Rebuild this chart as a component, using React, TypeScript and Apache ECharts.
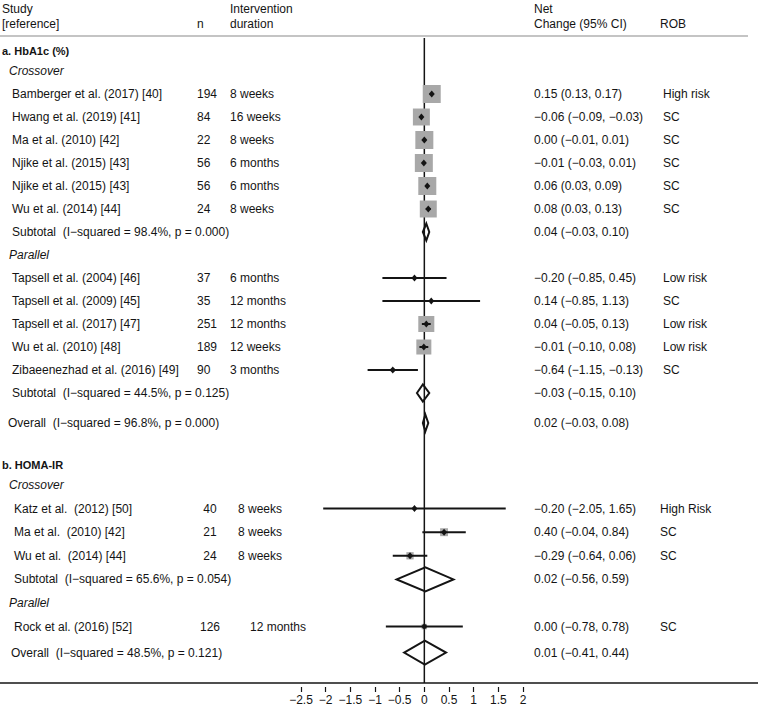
import React, { useEffect, useRef } from "react";
import * as echarts from "echarts";

// ---------- a. HbA1c (%) ----------
const hbaStudies = [
  "Bamberger et al. (2017) [40]",
  "Hwang et al. (2019) [41]",
  "Ma et al. (2010) [42]",
  "Njike et al. (2015) [43]",
  "Njike et al. (2015) [43]",
  "Wu et al. (2014) [44]",
  "Tapsell et al. (2004) [46]",
  "Tapsell et al. (2009) [45]",
  "Tapsell et al. (2017) [47]",
  "Wu et al. (2010) [48]",
  "Zibaeenezhad et al. (2016) [49]",
];
const hbaDesign = ["Crossover", "Crossover", "Crossover", "Crossover", "Crossover", "Crossover", "Parallel", "Parallel", "Parallel", "Parallel", "Parallel"];
const hbaN = [194, 84, 22, 56, 56, 24, 37, 35, 251, 189, 90];
const hbaDuration = ["8 weeks", "16 weeks", "8 weeks", "6 months", "6 months", "8 weeks", "6 months", "12 months", "12 months", "12 weeks", "3 months"];
const hbaEst = [0.15, -0.06, 0.0, -0.01, 0.06, 0.08, -0.2, 0.14, 0.04, -0.01, -0.64];
const hbaLow = [0.13, -0.09, -0.01, -0.03, 0.03, 0.03, -0.85, -0.85, -0.05, -0.1, -1.15];
const hbaHigh = [0.17, -0.03, 0.01, 0.01, 0.09, 0.13, 0.45, 1.13, 0.13, 0.08, -0.13];
const hbaWeight = [13.5, 12.0, 13.5, 13.5, 13.5, 12.0, 0.4, 0.2, 10.7, 9.4, 0.7];
const hbaRob = ["High risk", "SC", "SC", "SC", "SC", "SC", "Low risk", "SC", "Low risk", "Low risk", "SC"];
const hbaPooledGroup = ["Crossover", "Parallel", "Overall"];
const hbaPooledEst = [0.04, -0.03, 0.02];
const hbaPooledLow = [-0.03, -0.15, -0.03];
const hbaPooledHigh = [0.1, 0.1, 0.08];
const hbaPooledI2 = ["98.4%", "44.5%", "96.8%"];
const hbaPooledP = ["0.000", "0.125", "0.000"];

// ---------- b. HOMA-IR ----------
const homaStudies = [
  "Katz et al.  (2012) [50]",
  "Ma et al.  (2010) [42]",
  "Wu et al.  (2014) [44]",
  "Rock et al. (2016) [52]",
];
const homaDesign = ["Crossover", "Crossover", "Crossover", "Parallel"];
const homaN = [40, 21, 24, 126];
const homaDuration = ["8 weeks", "8 weeks", "8 weeks", "12 months"];
const homaEst = [-0.2, 0.4, -0.29, 0.0];
const homaLow = [-2.05, -0.04, -0.64, -0.78];
const homaHigh = [1.65, 0.84, 0.06, 0.78];
const homaWeight = [3, 32, 27, 15];
const homaRob = ["High Risk", "SC", "SC", "SC"];
const homaPooledGroup = ["Crossover", "Overall"];
const homaPooledEst = [0.02, 0.01];
const homaPooledLow = [-0.56, -0.41];
const homaPooledHigh = [0.59, 0.44];
const homaPooledI2 = ["65.6%", "48.5%"];
const homaPooledP = ["0.054", "0.121"];

const xTicks = [-2.5, -2, -1.5, -1, -0.5, 0, 0.5, 1, 1.5, 2];

// ---------- styling / layout ----------
const FONT = "'Liberation Sans', Arial, Helvetica, sans-serif";
const INK = "#141414";
const BOX_FILL = "#a8a8a8";
const GRID_TOP = 38;
const AXIS_Y = 683;

const sections = [
  {
    title: "a. HbA1c (%)",
    studies: hbaStudies, design: hbaDesign, n: hbaN, dur: hbaDuration,
    est: hbaEst, low: hbaLow, high: hbaHigh, weight: hbaWeight, rob: hbaRob,
    pooled: { group: hbaPooledGroup, est: hbaPooledEst, low: hbaPooledLow, high: hbaPooledHigh, i2: hbaPooledI2, p: hbaPooledP },
    lay: { start: 51, gapBefore: 0, step: 23, overallGap: 30, boxScale: 4.9, diamondHalf: 8.5,
      group: 9, study: 12, pooled: 12, overall: 8, n: 197, nAlign: "left", dur: [230, 230], net: 534, rob: 663 },
  },
  {
    title: "b. HOMA-IR",
    studies: homaStudies, design: homaDesign, n: homaN, dur: homaDuration,
    est: homaEst, low: homaLow, high: homaHigh, weight: homaWeight, rob: homaRob,
    pooled: { group: homaPooledGroup, est: homaPooledEst, low: homaPooledLow, high: homaPooledHigh, i2: homaPooledI2, p: homaPooledP },
    lay: { start: 0, gapBefore: 42, step: 23.6, overallGap: 26, boxScale: 1.4, diamondHalf: 12,
      group: 9, study: 14, pooled: 14, overall: 11, n: 210, nAlign: "center", dur: [238, 250], net: 534, rob: 660 },
  },
];

type Row = { kind: string; si: number; y: number; i?: number; gi?: number; group?: string; label?: string };

function buildRows(): Row[] {
  const rows: Row[] = [];
  let y = 0;
  sections.forEach((s, si) => {
    const L = s.lay;
    y = si === 0 ? L.start : y + L.gapBefore;
    rows.push({ kind: "title", si, y });
    const groups: string[] = [];
    s.design.forEach((g) => { if (!groups.includes(g)) groups.push(g); });
    groups.forEach((g, gi) => {
      y += gi === 0 ? 20 : L.step;
      rows.push({ kind: "group", si, y, group: g });
      s.design.forEach((d, i) => {
        if (d === g) { y += L.step; rows.push({ kind: "study", si, y, i, gi }); }
      });
      const pi = s.pooled.group.indexOf(g);
      if (pi >= 0) { y += L.step; rows.push({ kind: "pooled", si, y, i: pi, label: "Subtotal" }); }
    });
    const oi = s.pooled.group.indexOf("Overall");
    y += L.overallGap;
    rows.push({ kind: "pooled", si, y, i: oi, label: "Overall" });
  });
  return rows;
}

const fmt = (v: number) => (v < 0 ? "\u2212" : "") + Math.abs(v).toFixed(2);
const ci = (e: number, l: number, h: number) => `${fmt(e)} (${fmt(l)}, ${fmt(h)})`;

function txt(x: number, y: number, text: string, o: any = {}) {
  const size = o.size || 12;
  const font = `${o.italic ? "italic " : ""}${o.bold ? "bold " : ""}${size}px ${FONT}`;
  const align = o.align || "left";
  return {
    type: "text",
    x, y, silent: true,
    style: {
      text, fill: INK, font,
      align, verticalAlign: "middle",
      textAlign: align, textVerticalAlign: "middle",
    },
  };
}

export default function App() {
  const ref = useRef<HTMLDivElement>(null);
  useEffect(() => {
    document.body.style.margin = "0";
    if (!ref.current) return;
    const chart = echarts.init(ref.current, null, { renderer: "svg" });
    const rows = buildRows();

    const studyData: any[] = [];
    const pooledData: any[] = [];
    rows.forEach((r) => {
      const s = sections[r.si];
      if (r.kind === "study") {
        const i = r.i as number;
        studyData.push([s.est[i], r.y, s.low[i], s.high[i], s.weight[i], r.si]);
      } else if (r.kind === "pooled") {
        const i = r.i as number;
        pooledData.push([s.pooled.est[i], r.y, s.pooled.low[i], s.pooled.high[i], r.si]);
      }
    });

    const option: any = {
      animation: false,
      grid: { left: 301, right: 237, top: GRID_TOP, bottom: 708 - AXIS_Y, containLabel: false, outerBoundsMode: "none" },
      xAxis: {
        type: "value",
        min: xTicks[0],
        max: xTicks[xTicks.length - 1],
        interval: 0.5,
        offset: 4,
        axisLine: { show: false },
        axisTick: { show: true, length: 5, lineStyle: { color: INK, width: 1.2 } },
        axisLabel: {
          show: true, margin: 7, fontSize: 12, fontFamily: FONT, color: INK,
          showMinLabel: true, showMaxLabel: true,
          formatter: (v: number) => String(v).replace("-", "\u2212"),
        },
        splitLine: { show: false },
      },
      yAxis: { type: "value", min: GRID_TOP, max: AXIS_Y, inverse: true, show: false },
      graphic: {
        elements: [
          txt(2, 9, "Study"),
          txt(2, 24, "[reference]"),
          txt(197, 24, "n"),
          txt(230, 9, "Intervention"),
          txt(230, 24, "duration"),
          txt(534, 9, "Net"),
          txt(534, 24, "Change (95% CI)"),
          txt(660, 24, "ROB"),
          { type: "line", silent: true, shape: { x1: 0, y1: 36, x2: 748, y2: 36 }, style: { stroke: "#c4c4c4", lineWidth: 2 } },
          { type: "line", silent: true, shape: { x1: 0, y1: AXIS_Y, x2: 758, y2: AXIS_Y }, style: { stroke: INK, lineWidth: 1.5 } },
        ],
      },
      series: [
        {
          type: "custom",
          name: "zero",
          z: 1,
          clip: false,
          data: [[0, GRID_TOP, AXIS_Y]],
          encode: { x: 0, y: 1 },
          renderItem: (params: any, api: any) => {
            const a = api.coord([api.value(0), api.value(1)]);
            const b = api.coord([api.value(0), api.value(2)]);
            return { type: "line", shape: { x1: a[0], y1: a[1], x2: b[0], y2: b[1] }, style: { stroke: INK, lineWidth: 1.5 } };
          },
        },
        {
          type: "custom",
          name: "studies",
          z: 3,
          clip: false,
          data: studyData,
          encode: { x: 0, y: 1 },
          renderItem: (params: any, api: any) => {
            const est = api.value(0), y = api.value(1), lo = api.value(2), hi = api.value(3), w = api.value(4), si = api.value(5);
            const c = api.coord([est, y]);
            const lx = api.coord([lo, y])[0];
            const hx = api.coord([hi, y])[0];
            const s = sections[si].lay.boxScale * Math.sqrt(w);
            return {
              type: "group",
              children: [
                { type: "rect", shape: { x: c[0] - s / 2, y: c[1] - s / 2, width: s, height: s }, style: { fill: BOX_FILL } },
                { type: "line", shape: { x1: lx, y1: c[1], x2: hx, y2: c[1] }, style: { stroke: INK, lineWidth: 2 } },
                { type: "polygon", shape: { points: [[c[0], c[1] - 3.5], [c[0] + 3, c[1]], [c[0], c[1] + 3.5], [c[0] - 3, c[1]]] }, style: { fill: INK } },
              ],
            };
          },
        },
        {
          type: "custom",
          name: "pooled",
          z: 4,
          clip: false,
          data: pooledData,
          encode: { x: 0, y: 1 },
          renderItem: (params: any, api: any) => {
            const est = api.value(0), y = api.value(1), lo = api.value(2), hi = api.value(3), si = api.value(4);
            const c = api.coord([est, y]);
            const lx = api.coord([lo, y])[0];
            const hx = api.coord([hi, y])[0];
            const h = sections[si].lay.diamondHalf;
            return {
              type: "polygon",
              shape: { points: [[lx, c[1]], [c[0], c[1] - h], [hx, c[1]], [c[0], c[1] + h]] },
              style: { fill: "none", stroke: INK, lineWidth: 2, lineJoin: "miter" },
            };
          },
        },
        {
          type: "custom",
          name: "table",
          z: 5,
          clip: false,
          data: rows.map((r) => [0, r.y]),
          encode: { x: 0, y: 1 },
          renderItem: (params: any, api: any) => {
            const r = rows[params.dataIndex];
            const s = sections[r.si];
            const L = s.lay;
            const y = api.coord([0, api.value(1)])[1];
            const kids: any[] = [];
            if (r.kind === "title") {
              kids.push(txt(2, y, s.title, { bold: true, size: 11 }));
            } else if (r.kind === "group") {
              kids.push(txt(L.group, y, r.group as string, { italic: true }));
            } else if (r.kind === "study") {
              const i = r.i as number;
              kids.push(txt(L.study, y, s.studies[i]));
              kids.push(txt(L.n, y, String(s.n[i]), { align: L.nAlign }));
              kids.push(txt(L.dur[r.gi as number], y, s.dur[i]));
              kids.push(txt(L.net, y, ci(s.est[i], s.low[i], s.high[i])));
              kids.push(txt(L.rob, y, s.rob[i]));
            } else {
              const i = r.i as number;
              const P = s.pooled;
              const x = r.label === "Overall" ? L.overall : L.pooled;
              kids.push(txt(x, y, `${r.label}  (I\u2212squared = ${P.i2[i]}, p = ${P.p[i]})`));
              kids.push(txt(L.net, y, ci(P.est[i], P.low[i], P.high[i])));
            }
            return { type: "group", children: kids };
          },
        },
      ],
    };
    chart.setOption(option);
    return () => chart.dispose();
  }, []);
  return <div ref={ref} style={{ width: 760, height: 708 }} />;
}
